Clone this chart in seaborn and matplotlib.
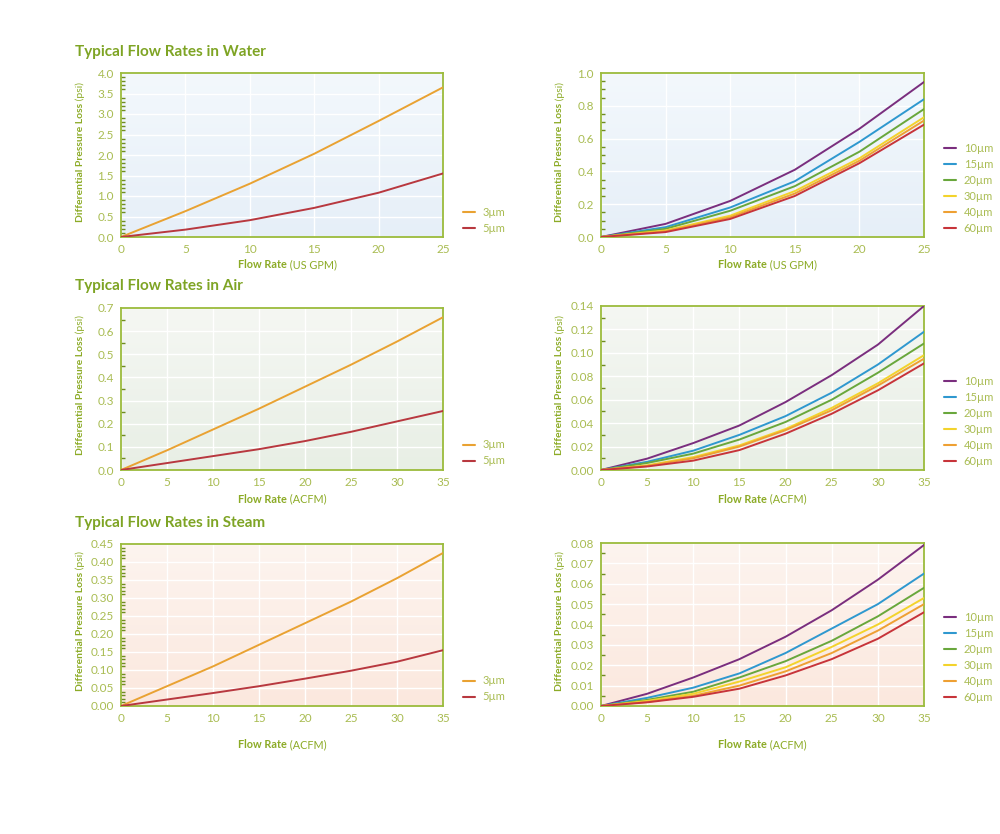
import numpy as np
import pandas as pd
import matplotlib
matplotlib.use("Agg")
import matplotlib.pyplot as plt
import seaborn as sns
from matplotlib.ticker import MultipleLocator, AutoMinorLocator
from matplotlib.colors import LinearSegmentedColormap

# ---- data ----
water_flow = [0, 5, 10, 15, 20, 25]
air_flow = [0, 5, 10, 15, 20, 25, 30, 35]
steam_flow = [0, 5, 10, 15, 20, 25, 30, 35]

small_sizes = ["3µm", "5µm"]
large_sizes = ["10µm", "15µm", "20µm", "30µm", "40µm", "60µm"]

water_small = {
    "3µm": [0, 0.63, 1.30, 2.03, 2.83, 3.65],
    "5µm": [0, 0.18, 0.41, 0.71, 1.08, 1.55],
}
water_large = {
    "10µm": [0, 0.08, 0.22, 0.41, 0.66, 0.945],
    "15µm": [0, 0.06, 0.18, 0.34, 0.58, 0.84],
    "20µm": [0, 0.05, 0.16, 0.31, 0.52, 0.78],
    "30µm": [0, 0.04, 0.13, 0.28, 0.48, 0.73],
    "40µm": [0, 0.035, 0.12, 0.265, 0.465, 0.71],
    "60µm": [0, 0.03, 0.11, 0.25, 0.45, 0.685],
}
air_small = {
    "3µm": [0, 0.085, 0.175, 0.265, 0.36, 0.455, 0.555, 0.66],
    "5µm": [0, 0.03, 0.06, 0.09, 0.125, 0.165, 0.21, 0.255],
}
air_large = {
    "10µm": [0, 0.0097, 0.023, 0.038, 0.058, 0.081, 0.107, 0.140],
    "15µm": [0, 0.007, 0.0165, 0.030, 0.046, 0.066, 0.090, 0.118],
    "20µm": [0, 0.006, 0.014, 0.026, 0.041, 0.060, 0.083, 0.108],
    "30µm": [0, 0.004, 0.011, 0.021, 0.035, 0.053, 0.074, 0.098],
    "40µm": [0, 0.0035, 0.010, 0.020, 0.034, 0.051, 0.072, 0.095],
    "60µm": [0, 0.003, 0.008, 0.017, 0.031, 0.048, 0.068, 0.091],
}
steam_small = {
    "3µm": [0, 0.055, 0.11, 0.17, 0.23, 0.29, 0.355, 0.425],
    "5µm": [0, 0.018, 0.036, 0.055, 0.076, 0.098, 0.123, 0.155],
}
steam_large = {
    "10µm": [0, 0.006, 0.014, 0.023, 0.034, 0.047, 0.062, 0.079],
    "15µm": [0, 0.004, 0.009, 0.016, 0.026, 0.038, 0.050, 0.065],
    "20µm": [0, 0.003, 0.007, 0.014, 0.022, 0.032, 0.044, 0.058],
    "30µm": [0, 0.0025, 0.006, 0.012, 0.019, 0.029, 0.040, 0.053],
    "40µm": [0, 0.002, 0.005, 0.010, 0.017, 0.026, 0.037, 0.050],
    "60µm": [0, 0.0018, 0.0045, 0.0085, 0.015, 0.023, 0.033, 0.046],
}

titles = ["Typical Flow Rates in Water", "Typical Flow Rates in Air", "Typical Flow Rates in Steam"]
units = ["(US GPM)", "(ACFM)", "(ACFM)"]

# ---- styling ----
sns.set_style("white")
plt.rcParams["font.family"] = ["Lato", "DejaVu Sans"]

GREEN_SPINE = "#9bbb3c"
GREEN_TITLE = "#7ea424"
GREEN_LABEL = "#8cab26"
GREEN_TICK = "#a9bc52"

small_pal = {"3µm": "#e9a232", "5µm": "#b8383f"}
large_pal = {"10µm": "#7a2e7e", "15µm": "#2f98cf", "20µm": "#69a73c",
             "30µm": "#f3d32c", "40µm": "#eea033", "60µm": "#c7343a"}

bg = [("#f3f8fc", "#e6eff8"), ("#f5f7f3", "#e8efe5"), ("#fdf4ef", "#fbe8de")]

fig = plt.figure(figsize=(10, 8.34), dpi=100)

rows = [
    (water_small, water_large, water_flow, 25, 5, 4.0, 0.5, 5, 1.0, 0.2, 4, 73, 73, "{:.1f}", "{:.1f}"),
    (air_small, air_large, air_flow, 35, 5, 0.7, 0.1, 2, 0.14, 0.02, 2, 308, 306, "{:.1f}", "{:.2f}"),
    (steam_small, steam_large, steam_flow, 35, 5, 0.45, 0.05, 5, 0.08, 0.01, 2, 544, 543, "{:.2f}", "{:.2f}"),
]
bottoms = [237, 470, 706]
title_y = [52, 286, 523]
xlabel_gap = [28, 29, 39]

H = 834.0
W = 1000.0


def style_axes(ax, xmax, xstep, ymax, ystep, nminor, yfmt, colors):
    grad = LinearSegmentedColormap.from_list("bg", [colors[1], colors[0]])
    ax.imshow(np.linspace(0, 1, 100).reshape(-1, 1), cmap=grad, origin="lower",
              extent=[0, 1, 0, 1], transform=ax.transAxes, aspect="auto", zorder=0)
    ax.set_xlim(0, xmax)
    ax.set_ylim(0, ymax)
    ax.xaxis.set_major_locator(MultipleLocator(xstep))
    ax.yaxis.set_major_locator(MultipleLocator(ystep))
    ax.yaxis.set_minor_locator(AutoMinorLocator(nminor))
    ax.set_yticks(ax.get_yticks())
    ax.set_yticklabels([yfmt.format(v) for v in ax.get_yticks()])
    ax.set_ylim(0, ymax)
    ax.grid(True, which="major", color="white", lw=1.0, zorder=1)
    for s in ax.spines.values():
        s.set_color(GREEN_SPINE)
        s.set_linewidth(1.3)
    ax.tick_params(axis="both", which="major", direction="inout", length=6, width=1.2,
                   color="#6f8c22", labelcolor=GREEN_TICK, labelsize=8.5, pad=2)
    ax.tick_params(axis="y", which="minor", direction="in", length=3, width=1,
                   color="#6f8c22", left=True)


def add_labels(ax, unit, gap, ax_h_px):
    ax.set_xlabel("")
    ax.set_ylabel("")
    frac_gap = gap / ax_h_px
    tb = ax.text(0.363, -frac_gap, "Flow Rate", transform=ax.transAxes, ha="left", va="center",
                 fontsize=7.8, fontweight="bold", color=GREEN_LABEL)
    ax.annotate(" " + unit, xy=(1, 0), xycoords=tb, ha="left", va="bottom",
                fontsize=7.8, color=GREEN_LABEL)
    yb = ax.text(-0.127, 0.09, "Differential Pressure Loss", transform=ax.transAxes, rotation=90,
                 ha="center", va="bottom", fontsize=7.5, fontweight="bold", color=GREEN_LABEL)
    ax.annotate(" (psi)", xy=(0.5, 1), xycoords=yb, rotation=90, ha="center", va="bottom",
                fontsize=7.5, color=GREEN_LABEL)


for i, (ds, dl, flow, xmax, xstep, ys, yss, ms, yl, ysl, ml, top_s, top_l, fmt_s, fmt_l) in enumerate(rows):
    bot = bottoms[i]
    ax_s = fig.add_axes([121 / W, 1 - bot / H, 322 / W, (bot - top_s) / H])
    ax_l = fig.add_axes([601 / W, 1 - bot / H, 323 / W, (bot - top_l) / H])

    df_s = pd.DataFrame([(f, v, k) for k in small_sizes for f, v in zip(flow, ds[k])],
                        columns=["flow", "dp", "size"])
    df_l = pd.DataFrame([(f, v, k) for k in large_sizes for f, v in zip(flow, dl[k])],
                        columns=["flow", "dp", "size"])

    style_axes(ax_s, xmax, xstep, ys, yss, ms, fmt_s, bg[i])
    style_axes(ax_l, xmax, xstep, yl, ysl, ml, fmt_l, bg[i])

    sns.lineplot(data=df_s, x="flow", y="dp", hue="size", hue_order=small_sizes,
                 palette=small_pal, lw=1.4, ax=ax_s, zorder=3)
    sns.lineplot(data=df_l, x="flow", y="dp", hue="size", hue_order=large_sizes,
                 palette=large_pal, lw=1.4, ax=ax_l, zorder=3)

    for ax, top in ((ax_s, top_s), (ax_l, top_l)):
        ax.set_xlim(0, xmax)
        add_labels(ax, units[i], xlabel_gap[i], bot - top)
        leg = ax.legend(loc="lower left", bbox_to_anchor=(1.03, -0.04), frameon=False,
                        handlelength=1.1, handletextpad=0.7, labelspacing=0.45,
                        fontsize=8, labelcolor=GREEN_TICK)
        for line in leg.get_lines():
            line.set_linewidth(1.5)

    fig.text(75 / W, 1 - title_y[i] / H, titles[i], ha="left", va="center",
             fontsize=11, fontweight="bold", color=GREEN_TITLE)

fig.savefig("out.png", dpi=100, facecolor="white")
